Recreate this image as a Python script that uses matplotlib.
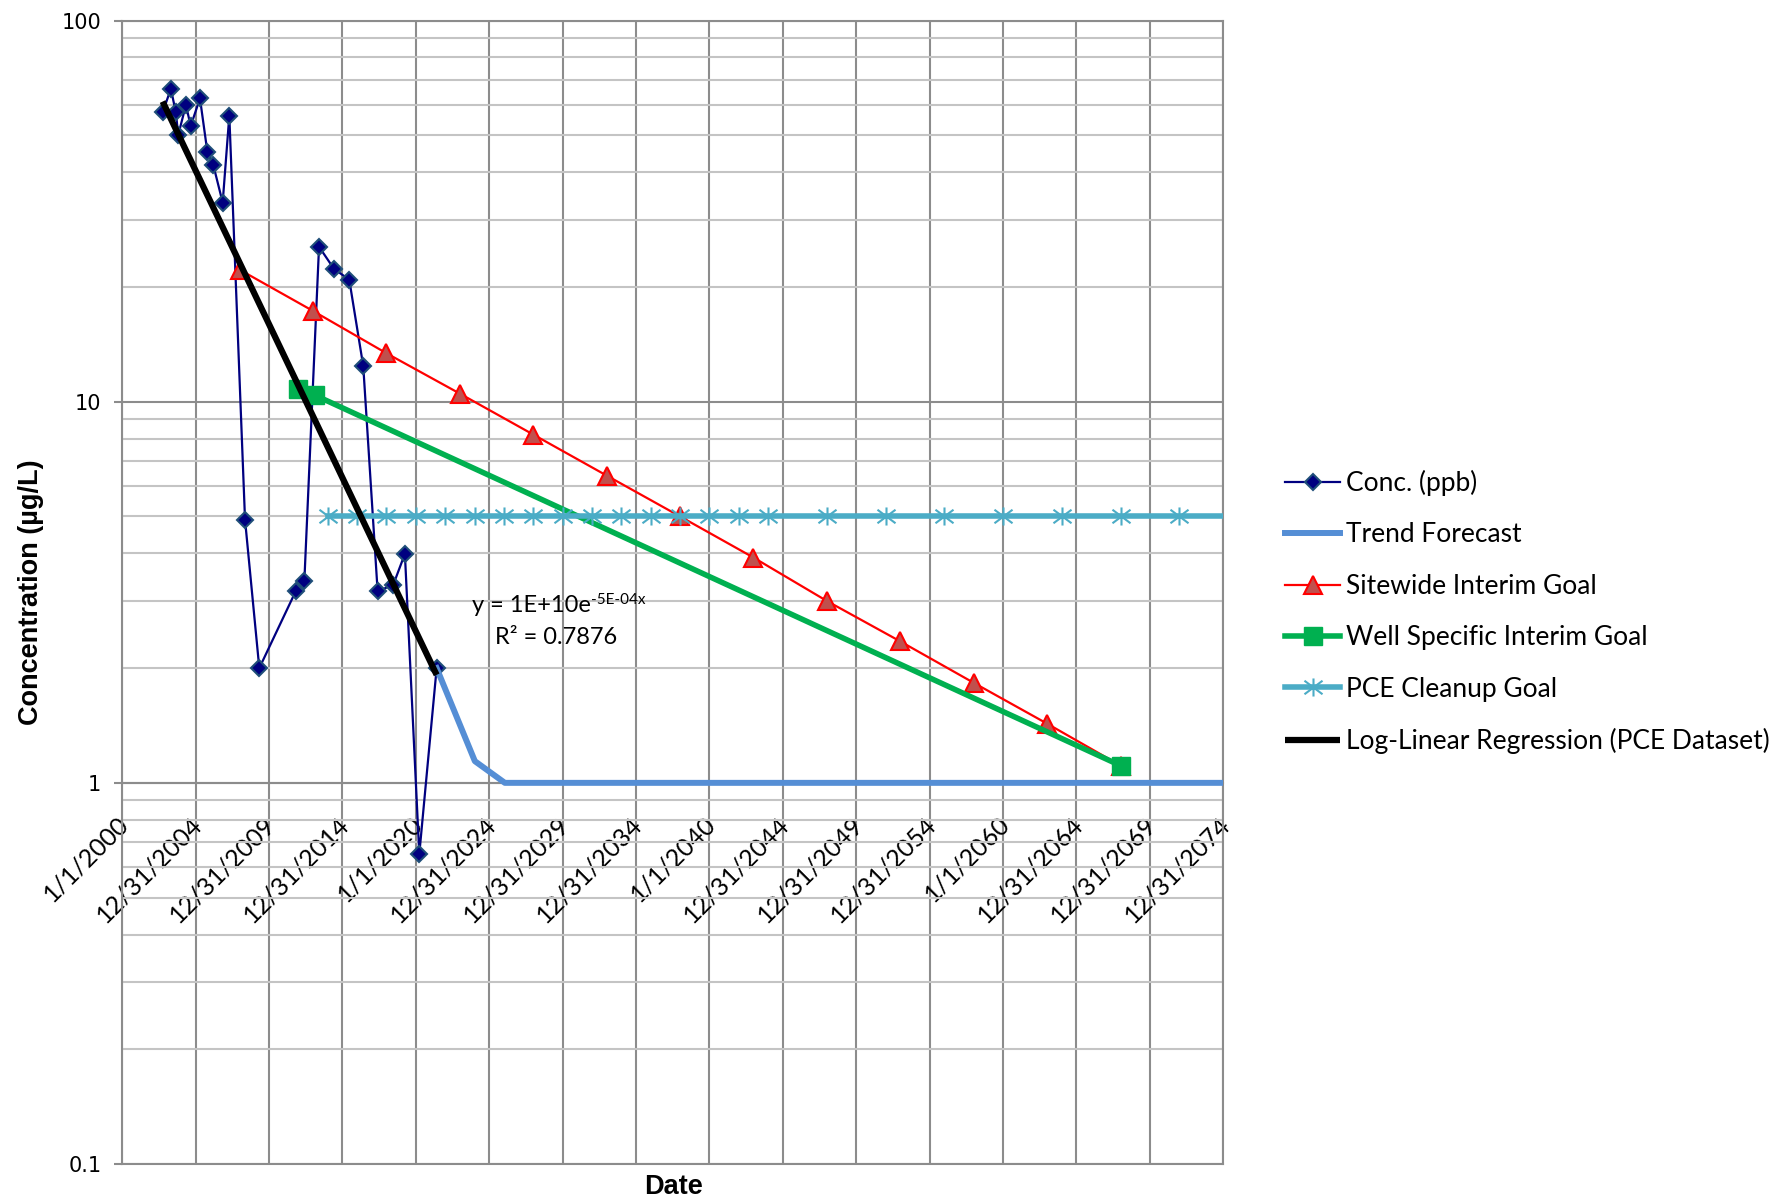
import numpy as np
import matplotlib
matplotlib.use("Agg")
import matplotlib.pyplot as plt
import matplotlib.dates as mdates
from matplotlib.path import Path
from matplotlib.transforms import ScaledTranslation
from matplotlib.ticker import FixedLocator, LogLocator, NullFormatter, NullLocator

# PCE sampling record (ug/L)
conc_dates = ['2002-10-04', '2003-04-27', '2003-08-29', '2003-10-27', '2004-05-05',
              '2004-09-02', '2005-04-20', '2005-10-20', '2006-03-17', '2006-11-06',
              '2007-04-20', '2008-05-15', '2009-05-05', '2011-10-27', '2012-05-30',
              '2013-05-30', '2014-06-07', '2015-06-21', '2016-06-03', '2017-05-27',
              '2018-06-21', '2019-04-05', '2020-03-28', '2021-06-03']
conc_vals = [57.4, 66.2, 57.4, 50.1, 60.0, 52.9, 62.5, 45.3, 41.8, 33.3,
             56.3, 4.9, 2.0, 3.18, 3.39, 25.5, 22.3, 20.9, 12.4, 3.18,
             3.31, 3.99, 0.65, 2.0]

trend_dates = ['2021-06-03', '2024-01-10', '2026-01-25', '2076-01-01']
trend_vals = [2.0, 1.14, 1.0, 1.0]

site_dates = ['2008-01-01', '2013-01-01', '2018-01-01', '2023-01-01', '2028-01-01',
              '2033-01-01', '2038-01-01', '2043-01-01', '2048-01-01', '2053-01-01',
              '2058-01-01', '2063-01-01', '2068-01-01']
site_vals = [22.2, 17.3, 13.4, 10.5, 8.2, 6.4, 5.0, 3.9, 3.0, 2.35, 1.83, 1.43, 1.11]

well_dates = ['2012-01-01', '2013-02-15', '2068-01-01']
well_vals = [10.8, 10.4, 1.11]

pce_dates = ['2014-01-01', '2016-01-01', '2018-01-01', '2020-01-01', '2022-01-01',
             '2024-01-01', '2026-01-01', '2028-01-01', '2030-01-01', '2032-01-01',
             '2034-01-01', '2036-01-01', '2038-01-01', '2040-01-01', '2042-01-01',
             '2044-01-01', '2048-01-01', '2052-01-01', '2056-01-01', '2060-01-01',
             '2064-01-01', '2068-01-01', '2072-01-01', '2076-01-01']
pce_vals = [5, 5, 5, 5, 5, 5, 5, 5, 5, 5, 5, 5, 5, 5, 5, 5, 5, 5, 5, 5, 5, 5, 5, 5]

reg_dates = ['2002-10-04', '2021-06-03']
reg_vals = [61.3, 1.92]

xtick_labels = ['1/1/2000', '12/31/2004', '12/31/2009', '12/31/2014', '1/1/2020',
                '12/31/2024', '12/31/2029', '12/31/2034', '1/1/2040', '12/31/2044',
                '12/31/2049', '12/31/2054', '1/1/2060', '12/31/2064', '12/31/2069',
                '12/31/2074']
ytick_vals = [0.1, 1, 10, 100]
ytick_labels = ['0.1', '1', '10', '100']

d = mdates.datestr2num
x0, x1 = d('2000-01-01'), d('2074-12-31')

# asterisk marker: vertical bar plus an X
star = Path([(0, -1), (0, 1), (-1, -0.75), (1, 0.75), (-1, 0.75), (1, -0.75)],
            [Path.MOVETO, Path.LINETO] * 3)

GRID_DARK = '#8c8c8c'
GRID_LIGHT = '#c4c4c4'

fig = plt.figure(figsize=(17.91, 12.01), dpi=100)
ax = fig.add_axes([0.0682, 0.0308, 0.6148, 0.9521])

# horizontal axis crosses at 1 (set before tick styling, it resets the ticks)
for s in ax.spines.values():
    s.set_color(GRID_DARK)
    s.set_linewidth(1.5)
ax.spines['bottom'].set_position(('data', 1))

l1, = ax.plot(d(conc_dates), conc_vals, '-', color='#000080', lw=1.6, marker='D',
              ms=8.5, mfc='#000080', mec='#1F4E79', mew=1.5, zorder=3)
l2, = ax.plot(d(trend_dates), trend_vals, '-', color='#558ED5', lw=4.3, zorder=3)
l3, = ax.plot(d(site_dates), site_vals, '-', color='#FF0000', lw=1.6, marker='^',
              ms=13, mfc='#C0504D', mec='#FF0000', mew=1.5, zorder=3)
l4, = ax.plot(d(well_dates), well_vals, '-', color='#00B050', lw=4.0, marker='s',
              ms=13.5, mfc='#00B050', mec='#00B050', mew=1, zorder=3)
l5, = ax.plot(d(pce_dates), pce_vals, '-', color='#4BACC6', lw=4.0, marker=star,
              ms=13, mfc='none', mec='#4BACC6', mew=1.5, zorder=3)
l6, = ax.plot(d(reg_dates), reg_vals, '-', color='black', lw=4.5,
              solid_capstyle='butt', zorder=4)

ax.set_yscale('log')
ax.set_ylim(0.1, 100)
ax.set_xlim(x0, x1)

ax.yaxis.set_major_locator(FixedLocator(ytick_vals))
ax.yaxis.set_minor_locator(LogLocator(base=10, subs=np.arange(2, 10)))
ax.yaxis.set_minor_formatter(NullFormatter())
ax.set_yticklabels(ytick_labels, fontfamily='DejaVu Sans', fontsize=15)

ax.set_xticks(np.linspace(x0, x1, len(xtick_labels)))
ax.xaxis.set_minor_locator(NullLocator())
ax.set_xticklabels(xtick_labels, rotation=45, ha='right', va='top',
                   rotation_mode='anchor', fontfamily='Lato', fontsize=18)

ax.set_axisbelow(True)
ax.grid(which='major', axis='both', color=GRID_DARK, lw=1.5)
ax.grid(which='minor', axis='y', color=GRID_LIGHT, lw=1.5)
ax.tick_params(axis='y', which='major', length=6, width=1.5, color=GRID_DARK, pad=9)
ax.tick_params(axis='y', which='minor', length=0)
ax.tick_params(axis='x', length=0, pad=21)

# nudge the slanted date labels so their ends sit on the gridlines
shift = ScaledTranslation(-4 / 72, 0, fig.dpi_scale_trans)
for lbl in ax.get_xticklabels():
    lbl.set_transform(lbl.get_transform() + shift)

ax.axhline(0.1, color=GRID_DARK, lw=1.5, clip_on=False, zorder=2)

ax.set_ylabel('Concentration (µg/L)', fontfamily='Liberation Sans',
              fontweight='bold', fontsize=19.5)
ax.yaxis.set_label_coords(-0.071, 0.5)
ax.set_xlabel('Date', fontfamily='Liberation Sans', fontweight='bold', fontsize=19.5)
ax.xaxis.set_label_coords(0.501, -0.009)

# trendline equation
eq = ax.text(d('2023-10-22'), 2.81, 'y = 1E+10e', ha='left', va='baseline',
             fontfamily='Lato', fontsize=17)
ax.annotate('-5E-04x', xy=(1, 1), xycoords=eq, xytext=(0, 1),
            textcoords='offset points', ha='left', va='top',
            fontfamily='Lato', fontsize=11)
ax.text(d('2029-07-18'), 2.31, 'R² = 0.7876', ha='center', va='baseline',
        fontfamily='Lato', fontsize=17)

ax.legend([l1, l2, l3, l4, l5, l6],
          ['Conc. (ppb)', 'Trend Forecast', 'Sitewide Interim Goal',
           'Well Specific Interim Goal', 'PCE Cleanup Goal',
           'Log-Linear Regression (PCE Dataset)'],
          loc='center left', bbox_to_anchor=(0.7175, 0.4904),
          bbox_transform=fig.transFigure, frameon=False,
          prop={'family': 'Lato', 'size': 19}, handlelength=2.1,
          handletextpad=0.2, labelspacing=1.0, borderpad=0, borderaxespad=0,
          numpoints=1)

fig.savefig('out.png', dpi=100)
